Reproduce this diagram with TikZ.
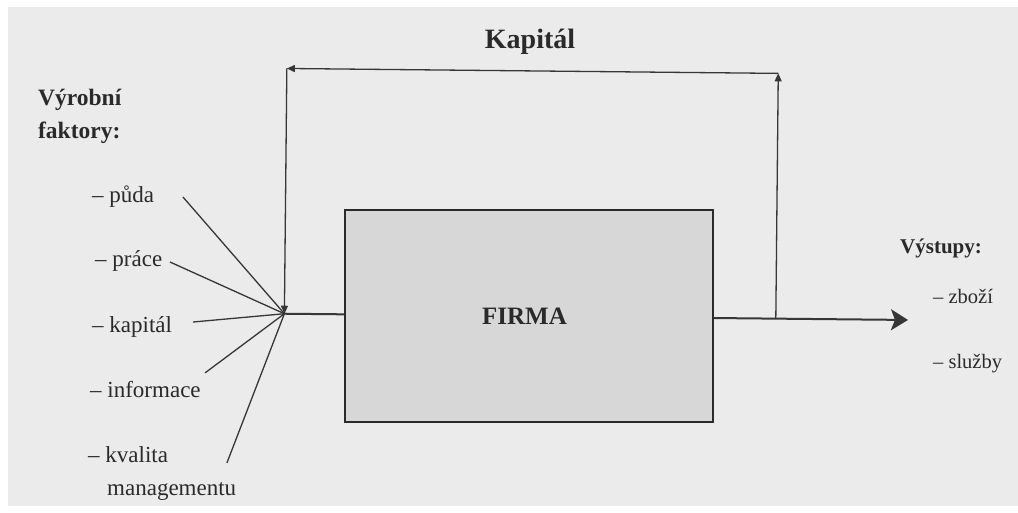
\documentclass[tikz,border=0pt]{standalone}
\usepackage{fontspec}
\setmainfont{Liberation Serif}
\usetikzlibrary{arrows.meta}
\definecolor{page}{HTML}{EBEBEB}
\definecolor{ink}{HTML}{2A2A2A}
\definecolor{linec}{HTML}{363636}
\definecolor{boxfill}{HTML}{D7D7D7}
\begin{document}
\begin{tikzpicture}[x=1pt,y=-1pt,
  lbl/.style={font=\fontsize{23}{26}\selectfont, text=ink, inner sep=0pt, anchor=base west},
  rlbl/.style={font=\fontsize{20.5}{24}\selectfont, text=ink, inner sep=0pt, anchor=base west},
  head/.style={font=\bfseries\fontsize{23.5}{28}\selectfont, text=ink, inner sep=0pt, anchor=base west},
  rhead/.style={font=\bfseries\fontsize{21}{26}\selectfont, text=ink, inner sep=0pt, anchor=base west},
  wire/.style={draw=linec, line width=1.3pt},
  flow/.style={draw=linec, line width=2pt},
  smallarrow/.style={-{Triangle[length=8pt,width=7pt]}},
  bigarrow/.style={-{Stealth[length=17pt,width=21pt,inset=4pt]}},
  firmabox/.style={draw=ink, line width=2pt, fill=boxfill, minimum width=368pt, minimum height=211.5pt, inner sep=0pt}
]
\useasboundingbox (0,0) rectangle (1018,513);
\fill[white] (0,0) rectangle (1018,513);
\fill[page] (8,7) rectangle (1018,506);
\begin{scope}[rotate around={-0.573:(509,256)}]
  % labels
  \node[head] (vyr1) at (36.5,110.7) {Výrobní};
  \node[head] (vyr2) at (36.8,143.7) {faktory:};
  \node[lbl] (puda) at (91.5,206.2) {– půda};
  \node[lbl] (prace) at (95.1,271.1) {– práce};
  \node[lbl] (kapital) at (92.8,336.2) {– kapitál};
  \node[lbl] (info) at (91.4,401.2) {– informace};
  \node[lbl] (kval) at (90.1,467.2) {– kvalita};
  \node[lbl] (mgmt) at (109.4,500) {managementu};
  \node[rhead] (vyst) at (900,249.1) {Výstupy:};
  \node[rlbl] (zbozi) at (933.5,298.8) {– zboží};
  \node[rlbl] (sluzby) at (934.1,363.8) {– služby};
  \node[font=\bfseries\fontsize{28}{32}\selectfont, text=ink, inner sep=0pt, anchor=base] (kaptitle) at (528,48.2) {Kapitál};
  % box
  \node[firmabox] (firma) at (529.5,316) {};
  \node[font=\bfseries\fontsize{25}{30}\selectfont, text=ink, inner sep=0pt, anchor=base] (firmatxt) at (525.2,324.8) {FIRMA};
  % coordinates
  \coordinate (J) at (285,316);
  \coordinate (TL) at (285,70.7);
  \coordinate (TR) at (776.5,70.7);
  \coordinate (R) at (776.5,316);
  \coordinate (tip) at (908.7,316);
  \coordinate (epuda) at (182.4,200.3);
  \coordinate (eprace) at (170,265.4);
  \coordinate (ekap) at (193.7,325.2);
  \coordinate (einfo) at (206.2,376);
  \coordinate (ekval) at (229,465.8);
  % factor lines
  \draw[wire] (epuda) -- (J);
  \draw[wire] (eprace) -- (J);
  \draw[wire] (ekap) -- (J);
  \draw[wire] (einfo) -- (J);
  \draw[wire] (ekval) -- (J);
  % main flow
  \draw[flow] (J) -- (firma.west |- J);
  \draw[flow, bigarrow] (firma.east |- tip) -- (tip);
  % capital loop
  \draw[wire, smallarrow] (R) -- (TR);
  \draw[wire, smallarrow] (TR) -- (TL);
  \draw[wire, smallarrow] (TL) -- (J);
\end{scope}
\end{tikzpicture}
\end{document}
